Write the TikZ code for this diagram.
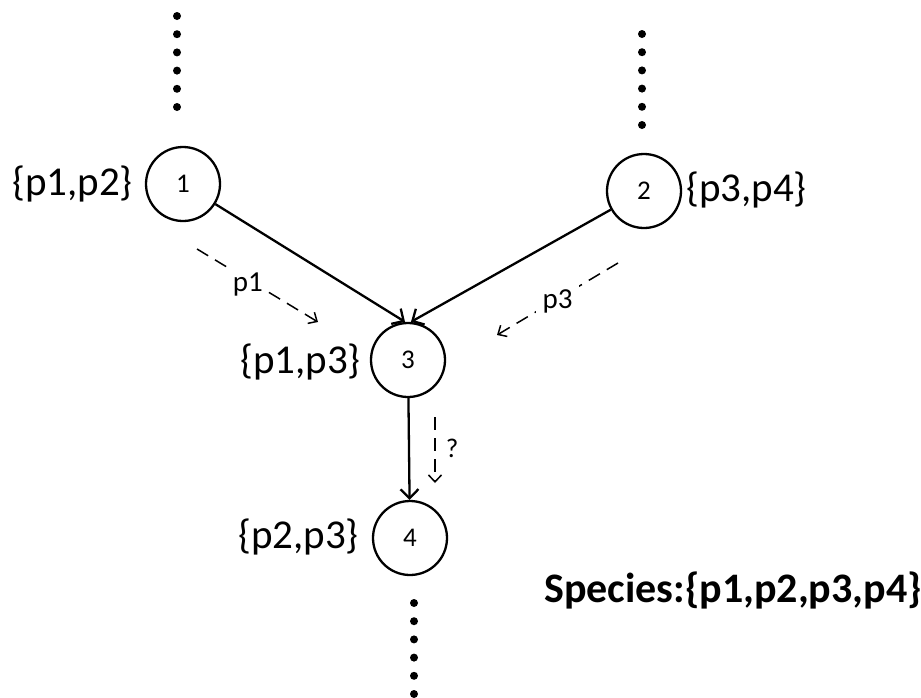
\documentclass[tikz,border=0pt]{standalone}
\usepackage{fontspec}
\setmainfont{Carlito}
\usetikzlibrary{arrows.meta}
\begin{document}
\begin{tikzpicture}[x=1pt,y=-1pt,
  vertex/.style={circle,draw,line width=2.3pt,minimum size=74pt,inner sep=0pt,font=\fontsize{27}{29}\selectfont},
  setlbl/.style={font=\fontsize{41}{44}\selectfont,inner sep=0pt},
  edge/.style={line width=2.3pt,-{Straight Barb[length=9pt,width=18pt,line width=2.3pt]}},
  flow/.style={line width=1.5pt,dash pattern=on 13pt off 8pt,-{Straight Barb[length=7pt,width=13pt,line width=1.5pt]}},
  flowlbl/.style={font=\fontsize{29}{31}\selectfont,fill=white,inner sep=7pt},
  dotline/.style={line width=8pt,line cap=round,dash pattern=on 0pt off 18.2pt}]
\useasboundingbox (0,0) rectangle (921,697);
% nodes
\node[vertex] (n1) at (183,184) {1};
\node[vertex] (n2) at (644,191) {2};
\node[vertex] (n3) at (408,360) {3};
\node[vertex] (n4) at (410,538) {4};
% set labels
\node[setlbl,anchor=east] (l1) at (133,184) {\{p1,p2\}};
\node[setlbl,anchor=west] (l2) at (686,190) {\{p3,p4\}};
\node[setlbl,anchor=east] (l3) at (361,362) {\{p1,p3\}};
\node[setlbl,anchor=east] (l4) at (359,537) {\{p2,p3\}};
\node[setlbl,anchor=west,font=\fontsize{42}{45}\selectfont\bfseries] (sp) at (544,590) {Species:\{p1,p2,p3,p4\}};
% dotted continuations
\coordinate (d1a) at (177,16);  \coordinate (d1b) at (177,107);
\coordinate (d2a) at (642,34);  \coordinate (d2b) at (642,126);
\coordinate (d4a) at (414,603); \coordinate (d4b) at (414,694);
\draw[dotline] (d1a) -- (d1b);
\draw[dotline] (d2a) -- (d2b);
\draw[dotline] (d4a) -- (d4b);
% edges
\draw[edge] (n1) -- ([xshift=-3pt]n3.north);
\draw[edge] (n2) -- ([xshift=3pt]n3.north);
\draw[edge] (n3) -- (n4);
% flows
\coordinate (f1a) at (197,249); \coordinate (f1b) at (318,322);
\coordinate (f3a) at (618,263); \coordinate (f3b) at (497,335);
\coordinate (fqa) at (435,417); \coordinate (fqb) at (435,483);
\draw[flow] (f1a) -- node[flowlbl,pos=0.42,yshift=-5pt,inner sep=5pt] (p1) {p1} (f1b);
\draw[flow] (f3a) -- node[flowlbl,pos=0.5,yshift=-2pt] (p3) {p3} (f3b);
\draw[flow] (fqa) -- node[font=\fontsize{27}{29}\selectfont,pos=0.47,right=10pt,inner sep=0pt] (q) {?} (fqb);
\end{tikzpicture}
\end{document}
